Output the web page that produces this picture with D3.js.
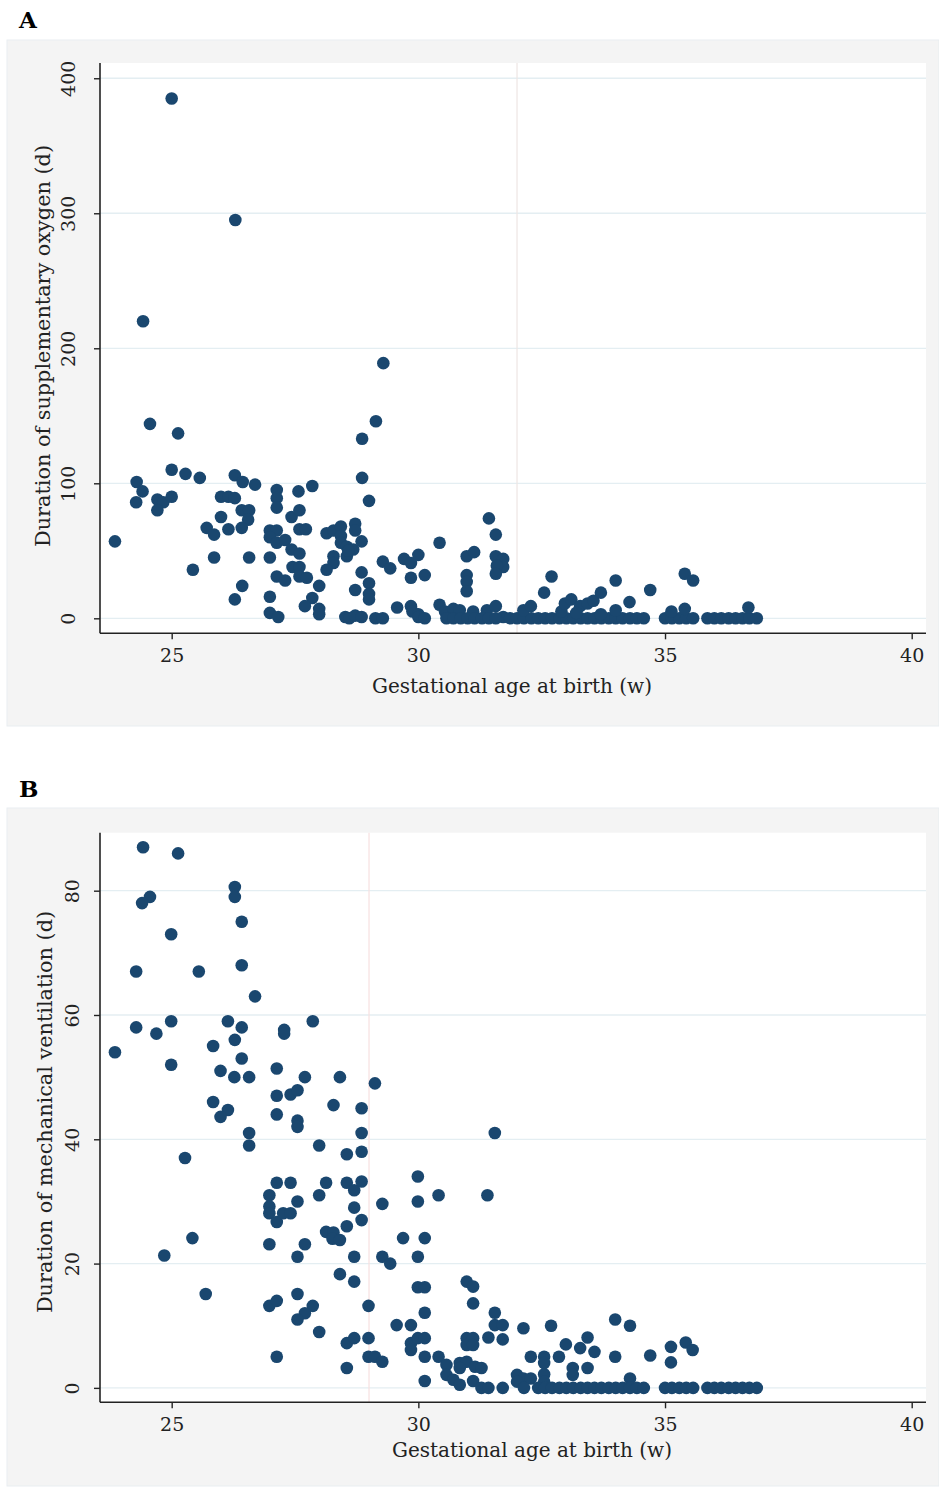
<!DOCTYPE html>
<html>
<head>
<meta charset="utf-8">
<script src="https://cdn.jsdelivr.net/npm/d3@7"></script>
<style>
  body { margin: 0; background: #fff; }
  svg text { font-family: "DejaVu Serif", "Liberation Serif", serif; fill: #222; }
</style>
</head>
<body>
<svg id="chart" width="939" height="1488"></svg>
<script>
// gestational age (w), duration of supplementary oxygen (d)
const oxygenPoints = [
  [25.0,385],[26.29,295],[24.42,220],[29.29,189],[24.56,144],[25.13,137],[29.14,146],[28.86,133],[28.86,104],[29.0,87],[23.85,57],
  [24.29,101],[24.41,94],[24.28,86],[24.71,88],[24.83,86],[25.0,90],[24.71,80],[25.0,110],[25.28,107],[25.57,104],[25.43,36],
  [25.71,67],[25.86,62],[25.86,45],[26.0,75],[26.0,90],[26.15,90],[26.28,89],[26.15,66],[26.28,106],[26.44,101],[26.69,99],
  [26.42,80],[26.57,80],[26.55,73],[26.42,67],[26.57,45],[26.43,24],[26.28,14],
  [27.13,95],[27.13,89],[27.13,82],[27.57,94],[27.85,98],[26.99,65],[27.13,65],[26.99,60],[27.13,56],[27.3,58],[27.43,51],
  [27.59,48],[27.43,75],[27.59,80],[27.59,66],[27.72,66],[26.99,45],[27.45,38],[27.59,38],[27.59,31],[27.74,30],[27.13,31],
  [27.3,28],[26.99,16],[26.99,4],[27.16,1],[27.99,24],[27.85,15],[27.70,9],[27.99,7],[27.99,3],
  [28.14,63],[28.28,65],[28.43,68],[28.43,61],[28.43,56],[28.55,53],[28.68,51],[28.55,46],[28.28,46],[28.28,41],[28.14,36],
  [28.72,70],[28.72,65],[28.85,57],[28.58,50],[28.72,21],[28.85,34],[29.0,26],[29.0,18],[29.0,14],[28.52,1],[28.6,0],
  [28.72,2],[28.85,1],[29.13,0],[29.28,0],
  [29.28,42],[29.43,37],[29.57,8],[29.71,44],[29.85,41],[30.0,47],[29.85,30],[30.13,32],[29.85,9],[29.88,5],[30.0,3],[30.0,1],
  [30.13,0],[30.43,56],[30.43,10],[30.98,46],[31.13,49],[30.98,32],[30.98,27],[30.98,20],[31.43,74],[31.57,62],[31.57,46],
  [31.72,44],[31.72,38],[31.59,39],[31.57,33],
  [30.54,5],[30.71,7],[30.84,6],[31.11,5],[31.39,6],[31.57,9],[31.72,1],
  [30.57,0],[30.71,0],[30.86,0],[31.0,0],[31.14,0],[31.29,0],[31.43,0],[31.57,0],[31.86,0],[32.0,0],[32.14,0],[32.29,0],[32.43,0],
  [32.13,6],[32.28,9],[32.55,19],[32.70,31],
  [32.57,0],[32.71,0],[32.86,0],[33.0,0],[33.14,0],[33.29,0],[33.43,0],[33.57,0],[33.71,0],[33.86,0],[34.0,0],[34.14,0],
  [34.29,0],[34.43,0],[34.57,0],
  [32.9,5],[32.97,11],[33.1,14],[33.28,9],[33.43,11],[33.55,13],[33.7,19],[34.0,28],[34.0,6],[34.28,12],[34.7,21],[33.2,4],[33.7,3],
  [35.0,0],[35.14,0],[35.29,0],[35.43,0],[35.57,0],[35.13,5],[35.40,7],[35.40,33],[35.57,28],
  [35.86,0],[36.0,0],[36.14,0],[36.29,0],[36.43,0],[36.57,0],[36.71,0],[36.86,0],[36.69,8]
];

// gestational age (w), duration of mechanical ventilation (d)
const ventilationPoints = [
  [24.42,87],[25.13,86],[26.28,80.6],[26.28,79],[24.56,79],[24.40,78],[26.42,75],[24.99,73],[24.28,67],[25.55,67],[26.42,68],
  [26.69,63],[24.28,58],[24.69,57],[24.99,59],[26.14,59],[26.28,56],[26.42,58],[25.84,55],[27.28,57.6],[27.28,57],[27.86,59],
  [23.85,54],[26.42,53],[24.99,52],
  [25.99,51],[26.27,50],[26.57,50],[27.13,51.4],[27.13,47],[27.13,44],[27.41,47.2],[27.55,47.9],[27.70,50],[28.41,50],[29.12,49],
  [25.84,46],[26.14,44.7],[25.99,43.6],[28.28,45.5],[28.85,45],[27.55,43],[27.55,42],[26.57,41],[26.57,39],[28.85,41],[27.99,39],
  [28.85,38],[28.55,37.6],[25.27,37],
  [27.13,33],[27.41,33],[28.13,33],[28.55,33],[28.70,31.8],[28.85,33.2],[26.98,31],[27.99,31],[27.55,30],[28.70,29],[29.27,29.6],
  [26.98,29.2],[26.98,28.1],[27.13,26.7],[27.26,28.1],[27.41,28.1],[28.85,27],[28.55,26],[29.99,34],[29.99,30],[30.41,31],
  [31.40,31],[31.55,41],
  [28.13,25.1],[28.28,25],[28.26,24],[28.41,23.8],[28.70,21.1],[26.98,23.1],[27.70,23.1],[27.55,21.1],[29.69,24.1],[30.13,24.1],
  [29.27,21.1],[29.43,20],[29.99,21.1],[25.42,24.1],[24.85,21.3],[28.41,18.3],[28.70,17.1],[25.69,15.1],[26.98,13.2],[27.13,14],
  [27.55,15.1],[27.86,13.2],[27.70,12],[27.55,11],[27.99,9],[28.99,13.2],[29.99,16.2],[30.13,16.2],[30.13,12.1],[29.56,10.1],
  [29.85,10.1],[28.55,7.2],[28.70,8],[28.99,8],[29.85,7.2],[29.85,6.1],[29.99,8],[30.13,8],[27.13,5],[28.99,5],[29.12,5],
  [29.27,4.2],[28.55,3.2],[30.13,5],[30.13,1.1],
  [30.98,17.1],[31.11,16.3],[31.11,13.6],[30.98,8],[31.11,8],[30.98,6.9],[31.11,6.9],[30.41,5],[30.57,3.7],[30.84,4],[30.98,4.2],
  [30.57,2.1],[30.71,1.3],[30.84,0.5],[31.11,1.1],[31.15,3.4],[31.28,3.2],[30.84,3.2],
  [31.55,12.1],[31.55,10.1],[31.71,10.1],[31.42,8.1],[31.71,7.8],[32.13,9.6],[32.69,10],[32.0,2.1],[32.13,1.5],[32.28,1.5],
  [32.0,1],[32.28,5],[32.55,5],[32.55,4],[32.55,2.2],[32.55,1],[32.85,5],[32.99,7],[33.13,3.2],[33.13,2.1],[33.28,6.4],
  [33.43,8.1],[33.43,3.2],[33.57,5.8],[33.99,11],[34.29,10],[33.99,5],[34.70,5.2],[35.12,6.6],[35.12,4.1],[35.42,7.3],
  [35.56,6.1],[34.29,1.5],
  [31.28,0],[31.42,0],[31.71,0],[32.14,0],[32.43,0],[32.57,0],[32.71,0],[32.86,0],[33.0,0],[33.14,0],[33.29,0],[33.43,0],
  [33.57,0],[33.71,0],[33.86,0],[34.0,0],[34.14,0],[34.29,0],[34.43,0],[34.57,0],
  [35.0,0],[35.14,0],[35.29,0],[35.43,0],[35.57,0],
  [35.86,0],[36.0,0],[36.14,0],[36.29,0],[36.43,0],[36.57,0],[36.71,0],[36.86,0]
];

const xTicks = [25, 30, 35, 40];
const oxygenTicks = [0, 100, 200, 300, 400];
const ventilationTicks = [0, 20, 40, 60, 80];

const navy = '#1a476f';
const svg = d3.select('#chart');

function drawPanel(opts) {
    const g = svg.append('g');

    // panel letter
    g.append('text')
        .attr('x', 19).attr('y', opts.letterY)
        .attr('font-size', 23).attr('font-weight', 'bold')
        .style('fill', '#000')
        .text(opts.letter);

    // outer grey region
    g.append('rect')
        .attr('x', 7).attr('y', opts.boxTop)
        .attr('width', 932).attr('height', opts.boxBottom - opts.boxTop)
        .attr('fill', '#f4f4f4')
        .attr('stroke', '#e9eef1').attr('stroke-width', 1);

    // plot region
    g.append('rect')
        .attr('x', opts.left).attr('y', opts.top)
        .attr('width', opts.right - opts.left).attr('height', opts.bottom - opts.top)
        .attr('fill', '#fff');

    const x = d3.scaleLinear().domain([23.547, 40.29]).range([opts.left, opts.right]);
    const y = d3.scaleLinear().domain(opts.yDomain).range([opts.bottom, opts.top]);

    // gridlines
    g.append('g').selectAll('line')
        .data(opts.yTicks)
        .enter().append('line')
        .attr('x1', opts.left).attr('x2', opts.right)
        .attr('y1', d => y(d)).attr('y2', d => y(d))
        .attr('stroke', '#e4eef2').attr('stroke-width', 1.3);

    // reference line
    g.append('line')
        .attr('x1', x(opts.refX)).attr('x2', x(opts.refX))
        .attr('y1', opts.top).attr('y2', opts.bottom)
        .attr('stroke', opts.refColor).attr('stroke-width', 1.2);

    // points
    g.append('g').selectAll('circle')
        .data(opts.points)
        .enter().append('circle')
        .attr('cx', d => x(d[0]))
        .attr('cy', d => y(d[1]))
        .attr('r', 6.3)
        .attr('fill', navy);

    // axes
    const xAxis = g.append('g')
        .attr('transform', `translate(0,${opts.bottom})`)
        .call(d3.axisBottom(x).tickValues(xTicks).tickSize(6).tickPadding(9).tickSizeOuter(0));
    xAxis.select('.domain').attr('d', `M${opts.left},0H${opts.right}`);
    const yAxis = g.append('g')
        .attr('transform', `translate(${opts.left},0)`)
        .call(d3.axisLeft(y).tickValues(opts.yTicks).tickSize(6).tickSizeOuter(0));
    yAxis.select('.domain').attr('d', `M0,${opts.top}V${opts.bottom}`);

    [xAxis, yAxis].forEach(a => {
        a.selectAll('.domain').attr('stroke', '#222').attr('stroke-width', 1.6);
        a.selectAll('.tick line').attr('stroke', '#222').attr('stroke-width', 1.4);
        a.selectAll('.tick text')
            .attr('font-family', null)
            .attr('font-size', 19)
            .style('fill', '#222');
    });
    xAxis.selectAll('.tick text').attr('dy', '0.71em');

    // y tick labels rotated like Stata
    yAxis.selectAll('.tick text')
        .attr('x', null).attr('dy', null)
        .attr('text-anchor', 'middle')
        .attr('transform', `translate(${opts.yLabelShift},0) rotate(-90)`)
        .attr('y', 7);

    // axis titles
    g.append('text')
        .attr('x', opts.xTitleX).attr('y', opts.xTitleY)
        .attr('text-anchor', 'middle')
        .attr('font-size', 20)
        .text('Gestational age at birth (w)');

    g.append('text')
        .attr('transform', `translate(${opts.yTitleX},${opts.yTitleY}) rotate(-90)`)
        .attr('text-anchor', 'middle')
        .attr('font-size', 20.8)
        .text(opts.yTitle);
}

drawPanel({
    letter: 'A', letterY: 28,
    boxTop: 40, boxBottom: 726,
    left: 100, right: 926, top: 63, bottom: 633.3,
    yDomain: [-11.1, 411.3], yTicks: oxygenTicks,
    yLabelShift: -32,
    refX: 32, refColor: '#eee6e4',
    points: oxygenPoints,
    xTitleX: 512, xTitleY: 693,
    yTitleX: 50, yTitleY: 346,
    yTitle: 'Duration of supplementary oxygen (d)'
});

drawPanel({
    letter: 'B', letterY: 797,
    boxTop: 808, boxBottom: 1486,
    left: 100, right: 926, top: 832.7, bottom: 1402.3,
    yDomain: [-2.32, 89.33], yTicks: ventilationTicks,
    yLabelShift: -28,
    refX: 29, refColor: '#f7e1e1',
    points: ventilationPoints,
    xTitleX: 532, xTitleY: 1457,
    yTitleX: 52, yTitleY: 1112,
    yTitle: 'Duration of mechanical ventilation (d)'
});
</script>
</body>
</html>
